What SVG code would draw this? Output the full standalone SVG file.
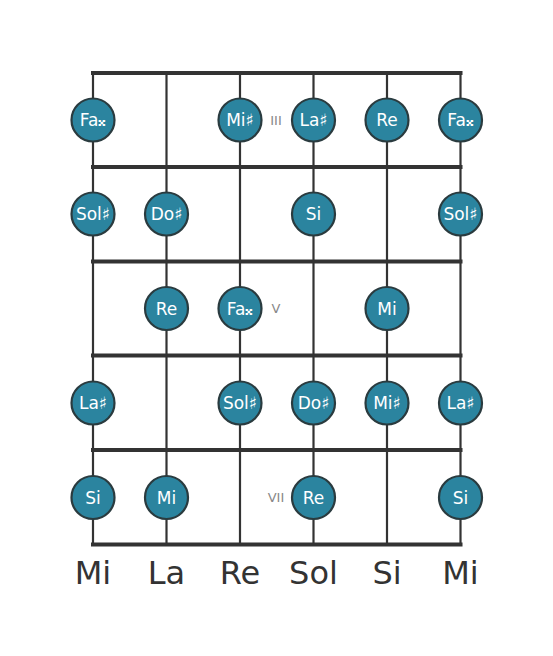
<svg xmlns="http://www.w3.org/2000/svg" width="553" height="656" viewBox="0 0 553 656">
<style>
.str{stroke:#333;stroke-width:2.2;fill:none}
.fret{stroke:#333;stroke-width:4;fill:none}
.dot circle{fill:#2b849f;stroke:#2a3b3f;stroke-width:2.2}
.dot text{fill:#fff;font-family:"DejaVu Sans",sans-serif;font-size:17px;text-anchor:middle;dominant-baseline:central}
.num{fill:#888;font-family:"DejaVu Sans",sans-serif;font-size:13px;text-anchor:middle;dominant-baseline:central}
.lbl{fill:#333;font-family:"DejaVu Sans",sans-serif;font-size:32px;text-anchor:middle}
</style>
<rect width="553" height="656" fill="#fff"/>
<g id="connectors">
<line class="str" x1="93" y1="73" x2="93" y2="545"/>
<line class="str" x1="166.5" y1="73" x2="166.5" y2="545"/>
<line class="str" x1="240" y1="73" x2="240" y2="545"/>
<line class="str" x1="313.5" y1="73" x2="313.5" y2="545"/>
<line class="str" x1="387" y1="73" x2="387" y2="545"/>
<line class="str" x1="460.5" y1="73" x2="460.5" y2="545"/>
<line class="fret" x1="91" y1="73" x2="462.5" y2="73"/>
<line class="fret" x1="91" y1="167" x2="462.5" y2="167"/>
<line class="fret" x1="91" y1="261.5" x2="462.5" y2="261.5"/>
<line class="fret" x1="91" y1="355.5" x2="462.5" y2="355.5"/>
<line class="fret" x1="91" y1="450" x2="462.5" y2="450"/>
<line class="fret" x1="91" y1="544.5" x2="462.5" y2="544.5"/>
</g>
<g id="fretnums">
<text class="num" x="276" y="120">III</text>
<text class="num" x="276" y="308.5">V</text>
<text class="num" x="276" y="497.5">VII</text>
</g>
<g id="n1" class="dot"><circle cx="93" cy="120" r="21.5"/><text x="93" y="120">Fa𝄪</text></g>
<g id="n2" class="dot"><circle cx="240" cy="120" r="21.5"/><text x="240" y="120">Mi♯</text></g>
<g id="n3" class="dot"><circle cx="313.5" cy="120" r="21.5"/><text x="313.5" y="120">La♯</text></g>
<g id="n4" class="dot"><circle cx="387" cy="120" r="21.5"/><text x="387" y="120">Re</text></g>
<g id="n5" class="dot"><circle cx="460.5" cy="120" r="21.5"/><text x="460.5" y="120">Fa𝄪</text></g>
<g id="n6" class="dot"><circle cx="93" cy="214" r="21.5"/><text x="93" y="214">Sol♯</text></g>
<g id="n7" class="dot"><circle cx="166.5" cy="214" r="21.5"/><text x="166.5" y="214">Do♯</text></g>
<g id="n8" class="dot"><circle cx="313.5" cy="214" r="21.5"/><text x="313.5" y="214">Si</text></g>
<g id="n9" class="dot"><circle cx="460.5" cy="214" r="21.5"/><text x="460.5" y="214">Sol♯</text></g>
<g id="n10" class="dot"><circle cx="166.5" cy="308.5" r="21.5"/><text x="166.5" y="308.5">Re</text></g>
<g id="n11" class="dot"><circle cx="240" cy="308.5" r="21.5"/><text x="240" y="308.5">Fa𝄪</text></g>
<g id="n12" class="dot"><circle cx="387" cy="308.5" r="21.5"/><text x="387" y="308.5">Mi</text></g>
<g id="n13" class="dot"><circle cx="93" cy="403" r="21.5"/><text x="93" y="403">La♯</text></g>
<g id="n14" class="dot"><circle cx="240" cy="403" r="21.5"/><text x="240" y="403">Sol♯</text></g>
<g id="n15" class="dot"><circle cx="313.5" cy="403" r="21.5"/><text x="313.5" y="403">Do♯</text></g>
<g id="n16" class="dot"><circle cx="387" cy="403" r="21.5"/><text x="387" y="403">Mi♯</text></g>
<g id="n17" class="dot"><circle cx="460.5" cy="403" r="21.5"/><text x="460.5" y="403">La♯</text></g>
<g id="n18" class="dot"><circle cx="93" cy="497.5" r="21.5"/><text x="93" y="497.5">Si</text></g>
<g id="n19" class="dot"><circle cx="166.5" cy="497.5" r="21.5"/><text x="166.5" y="497.5">Mi</text></g>
<g id="n20" class="dot"><circle cx="313.5" cy="497.5" r="21.5"/><text x="313.5" y="497.5">Re</text></g>
<g id="n21" class="dot"><circle cx="460.5" cy="497.5" r="21.5"/><text x="460.5" y="497.5">Si</text></g>
<g id="labels">
<text class="lbl" x="93" y="584">Mi</text>
<text class="lbl" x="166.5" y="584">La</text>
<text class="lbl" x="240" y="584">Re</text>
<text class="lbl" x="313.5" y="584">Sol</text>
<text class="lbl" x="387" y="584">Si</text>
<text class="lbl" x="460.5" y="584">Mi</text>
</g>
</svg>
